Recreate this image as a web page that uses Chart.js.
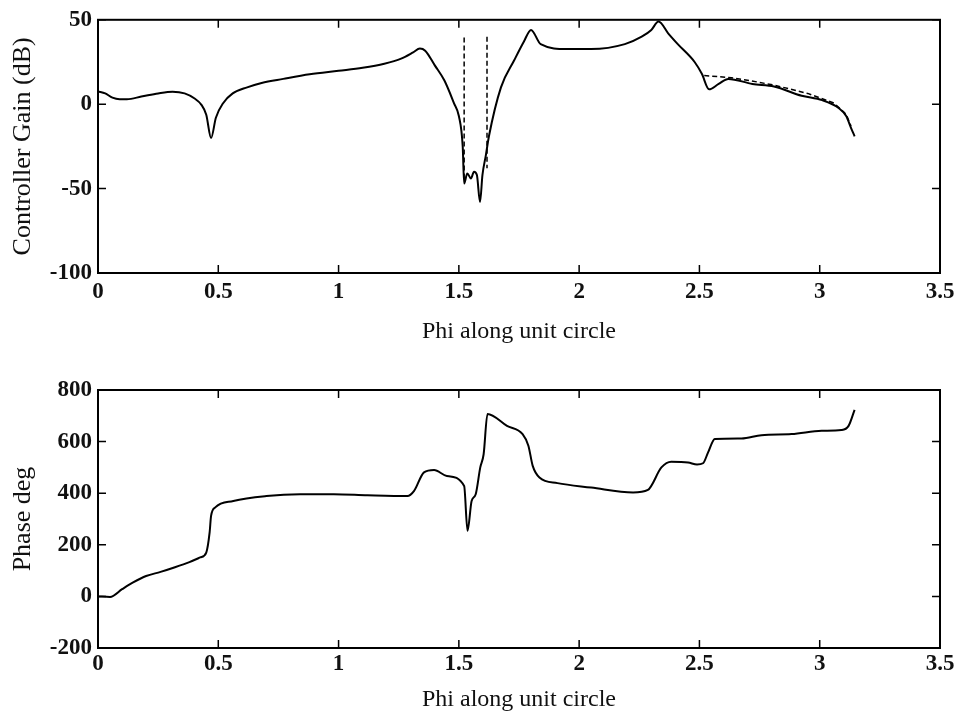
<!DOCTYPE html>
<html lang="en">
<head>
    <meta charset="UTF-8">
    <title>Controller Gain / Phase</title>
    <script src="https://cdn.jsdelivr.net/npm/chart.js"></script>
    <style>
        body { margin: 0; background: #fff; }
        .plot { position: absolute; left: 0; }
        #gainBox { top: 0; }
        #phaseBox { top: 358px; }
    </style>
</head>
<body>
    <div class="plot" id="gainBox"><canvas id="gainChart" width="957" height="358"></canvas></div>
    <div class="plot" id="phaseBox"><canvas id="phaseChart" width="957" height="358"></canvas></div>

    <script>
        // gain curve (solid)
        const gainX = [0, 0.03, 0.06, 0.09, 0.12, 0.18, 0.25, 0.31, 0.36, 0.40, 0.43, 0.45, 0.47, 0.49, 0.52, 0.56, 0.62, 0.68, 0.77, 0.88,
            1.0, 1.1, 1.19, 1.26, 1.31, 1.338, 1.36, 1.40, 1.44, 1.48, 1.50, 1.516, 1.522, 1.535, 1.55, 1.563, 1.575, 1.588, 1.598, 1.6125,
            1.625, 1.675, 1.73, 1.77, 1.80, 1.84, 1.95, 2.05, 2.19, 2.26, 2.30, 2.33, 2.37, 2.41, 2.48, 2.51, 2.54, 2.58, 2.62, 2.72,
            2.81, 2.925, 3.01, 3.08, 3.11, 3.13, 3.145];
        const gainDb = [7.5, 6.4, 3.9, 3, 3, 4.5, 6.4, 7.4, 6.4, 3.5, -0.4, -6.2, -20, -8, 0.6, 6.4, 10, 12.6, 15, 17.7,
            19.8, 21.6, 24, 27, 30.7, 33, 31.7, 23, 14, 0.5, -7, -25, -47, -41, -44, -40, -42, -58, -42, -30,
            -19, 10, 26, 37, 44, 35.6, 32.7, 32.7, 35.6, 40, 44, 49, 42, 35.6, 25, 18, 8.8, 12, 15, 12,
            10.5, 5, 2.4, -2.4, -7, -14, -19];

        // dashed curve, only where it departs from the solid one (null = gap)
        const dashX = [1.522, 1.522, 1.57, 1.617, 1.617, 2.2, 2.52, 2.633, 2.717, 2.81, 2.95, 3.06, 3.11, 3.13];
        const dashDb = [-44, 40, null, 40, -38, null, 17, 15.7, 13.8, 11.3, 6.4, 0.6, -6, -13];

        // phase curve
        const phaseX = [0, 0.05, 0.1, 0.146, 0.2, 0.26, 0.32, 0.38, 0.425, 0.45, 0.464, 0.47, 0.4875, 0.5625, 0.70, 0.84, 0.98, 1.12,
            1.286, 1.314, 1.355, 1.397, 1.45, 1.522, 1.536, 1.553, 1.57, 1.589, 1.603, 1.619, 1.70, 1.765, 1.789, 1.807, 1.835,
            1.91, 2.05, 2.224, 2.286, 2.342, 2.383, 2.453, 2.49, 2.515, 2.536, 2.564, 2.675, 2.758, 2.883, 3.008, 3.09, 3.12, 3.145];
        const phaseDeg = [0, -2, 28, 54, 79, 95, 113, 133, 151, 170, 248, 312, 345, 370, 389, 396, 396, 392,
            389, 409, 481, 490, 467, 428, 254, 370, 396, 500, 551, 707, 661, 629, 584, 506, 461,
            439, 422, 403, 413, 500, 522, 519, 511, 516, 558, 610, 612, 625, 629, 642, 645, 661, 723];

        const xTicks = [0, 0.5, 1, 1.5, 2, 2.5, 3, 3.5];
        const gainTicks = [-100, -50, 0, 50];
        const phaseTicks = [-200, 0, 200, 400, 600, 800];

        const pts = (xs, ys) => xs.map((x, i) => ({ x: x, y: ys[i] }));

        const FONT = '"Liberation Serif", "Times New Roman", serif';

        // box round the axes with inward ticks on all four sides, like matlab
        const framePlugin = {
            id: 'frame',
            afterDraw(chart) {
                const { ctx, chartArea: a, scales } = chart;
                const len = 8;
                ctx.save();
                ctx.strokeStyle = '#000';
                ctx.lineWidth = 2;
                ctx.strokeRect(a.left, a.top, a.right - a.left, a.bottom - a.top);
                ctx.lineWidth = 1.5;
                ctx.beginPath();
                scales.x.ticks.forEach(t => {
                    const px = scales.x.getPixelForValue(t.value);
                    ctx.moveTo(px, a.bottom); ctx.lineTo(px, a.bottom - len);
                    ctx.moveTo(px, a.top); ctx.lineTo(px, a.top + len);
                });
                scales.y.ticks.forEach(t => {
                    const py = scales.y.getPixelForValue(t.value);
                    ctx.moveTo(a.left, py); ctx.lineTo(a.left + len, py);
                    ctx.moveTo(a.right, py); ctx.lineTo(a.right - len, py);
                });
                ctx.stroke();
                ctx.restore();
            }
        };

        function makeChart(id, datasets, yTicks, yTitle, padTop, xHeight, xTitlePad, xTickPad) {
            return new Chart(document.getElementById(id), {
                type: 'line',
                data: { datasets: datasets },
                options: {
                    responsive: false,
                    animation: false,
                    layout: { padding: { top: padTop, right: 17, left: 0, bottom: 0 } },
                    plugins: { legend: { display: false }, tooltip: { enabled: false } },
                    elements: { point: { radius: 0 } },
                    scales: {
                        x: {
                            type: 'linear',
                            min: xTicks[0],
                            max: xTicks[xTicks.length - 1],
                            grid: { display: false, drawTicks: false },
                            border: { display: false },
                            afterBuildTicks: s => { s.ticks = xTicks.map(v => ({ value: v })); },
                            afterFit: s => {
                                s.height = xHeight;
                                s.paddingLeft = 0;
                                s.paddingRight = 0;
                            },
                            ticks: {
                                color: '#111', padding: xTickPad, maxRotation: 0,
                                callback: v => String(v),
                                font: { family: FONT, size: 23, weight: 'bold' }
                            },
                            title: {
                                display: true, text: 'Phi along unit circle', color: '#111',
                                padding: { top: 0, bottom: xTitlePad },
                                font: { family: FONT, size: 24 }
                            }
                        },
                        y: {
                            min: yTicks[0],
                            max: yTicks[yTicks.length - 1],
                            grid: { display: false, drawTicks: false },
                            border: { display: false },
                            afterBuildTicks: s => { s.ticks = yTicks.map(v => ({ value: v })); },
                            afterFit: s => { s.width = 98; },
                            ticks: {
                                color: '#111', padding: 6,
                                callback: v => String(v),
                                font: { family: FONT, size: 23, weight: 'bold' }
                            },
                            title: {
                                display: true, text: yTitle, color: '#111',
                                padding: { top: 8, bottom: 0 },
                                font: { family: FONT, size: 26 }
                            }
                        }
                    }
                },
                plugins: [framePlugin]
            });
        }

        makeChart('gainChart', [
            {
                data: pts(gainX, gainDb),
                borderColor: '#000', borderWidth: 2,
                cubicInterpolationMode: 'monotone'
            },
            {
                data: pts(dashX, dashDb),
                borderColor: '#000', borderWidth: 1.5,
                borderDash: [5, 3], tension: 0, spanGaps: false
            }
        ], gainTicks, 'Controller Gain (dB)', 16, 85, 12, 5);

        makeChart('phaseChart', [
            {
                data: pts(phaseX, phaseDeg),
                borderColor: '#000', borderWidth: 2,
                cubicInterpolationMode: 'monotone'
            }
        ], phaseTicks, 'Phase deg', 32, 68, 2, 2);
    </script>
</body>
</html>
